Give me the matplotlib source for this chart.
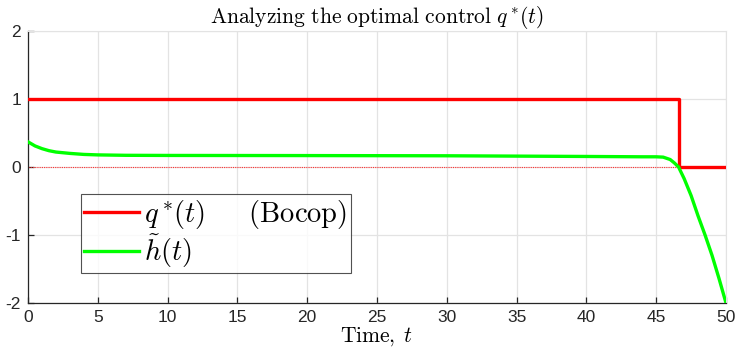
import matplotlib
matplotlib.use("Agg")
import matplotlib.pyplot as plt

# optimal control from Bocop: bang-bang with one switch
q_t = [0, 46.6, 46.6, 50]
q_val = [1, 1, 0, 0]

# switching function h~(t)
h_t = [0, 0.25, 0.5, 0.75, 1, 1.5, 2, 3, 4, 5, 7, 10, 20, 30, 40, 44, 45,
       45.5, 46, 46.3, 46.6, 47, 47.5, 48, 48.5, 49, 49.5, 50]
h_val = [0.37, 0.34, 0.31, 0.29, 0.27, 0.24, 0.22, 0.20, 0.185, 0.178, 0.172,
         0.17, 0.168, 0.165, 0.155, 0.15, 0.15, 0.145, 0.11, 0.06, 0.0, -0.17,
         -0.42, -0.72, -1.0, -1.3, -1.64, -2.0]

x_ticks = [0, 5, 10, 15, 20, 25, 30, 35, 40, 45, 50]
y_ticks = [-2, -1, 0, 1, 2]

plt.rcParams['mathtext.fontset'] = 'cm'
plt.rcParams['axes.unicode_minus'] = False
plt.rcParams['font.family'] = ['Liberation Sans', 'DejaVu Sans']

fig = plt.figure(figsize=(7.39, 3.55), dpi=100)
ax = fig.add_axes([28 / 739, 52 / 355, 698 / 739, 272 / 355])

grid_c = '#e3e3e3'
ax.axhline(0, color='#ff3030', lw=0.8, ls=(0, (1, 1)), zorder=2)
ax.plot(q_t, q_val, color='#ff0000', lw=2.4, zorder=3,
        label=r'$q^*\!(t)\quad\;\;\,\mathrm{(Bocop)}$')
ax.plot(h_t, h_val, color='#00ff00', lw=2.4, zorder=4,
        label=r'$\tilde{h}(t)$')

ax.set_xlim(0, 50)
ax.set_ylim(-2, 2)
ax.set_xticks(x_ticks)
ax.set_yticks(y_ticks)
ax.grid(True, color=grid_c, lw=0.9)
ax.set_axisbelow(True)
for s in ['top', 'right']:
    ax.spines[s].set_color(grid_c)
for s in ['left', 'bottom']:
    ax.spines[s].set_color('#262626')
    ax.spines[s].set_linewidth(0.9)
ax.tick_params(direction='in', length=4, width=0.9, color='#262626',
               labelsize=12.5, labelcolor='#262626', pad=5)

ax.set_title(r'$\mathrm{Analyzing\ the\ optimal\ control}\ q^*\!(t)$',
             fontsize=15.5, pad=3)
ax.set_xlabel(r'$\mathrm{Time,}\;t$', fontsize=15.5, labelpad=0)

leg = ax.legend(loc='lower left', bbox_to_anchor=(0.076, 0.11),
                fontsize=20.5, frameon=True, fancybox=False, borderpad=0.12,
                handlelength=1.9, handletextpad=0.2, labelspacing=0.05,
                borderaxespad=0)
leg.get_frame().set_edgecolor('#262626')
leg.get_frame().set_linewidth(0.8)

fig.savefig('out.png', dpi=100)
